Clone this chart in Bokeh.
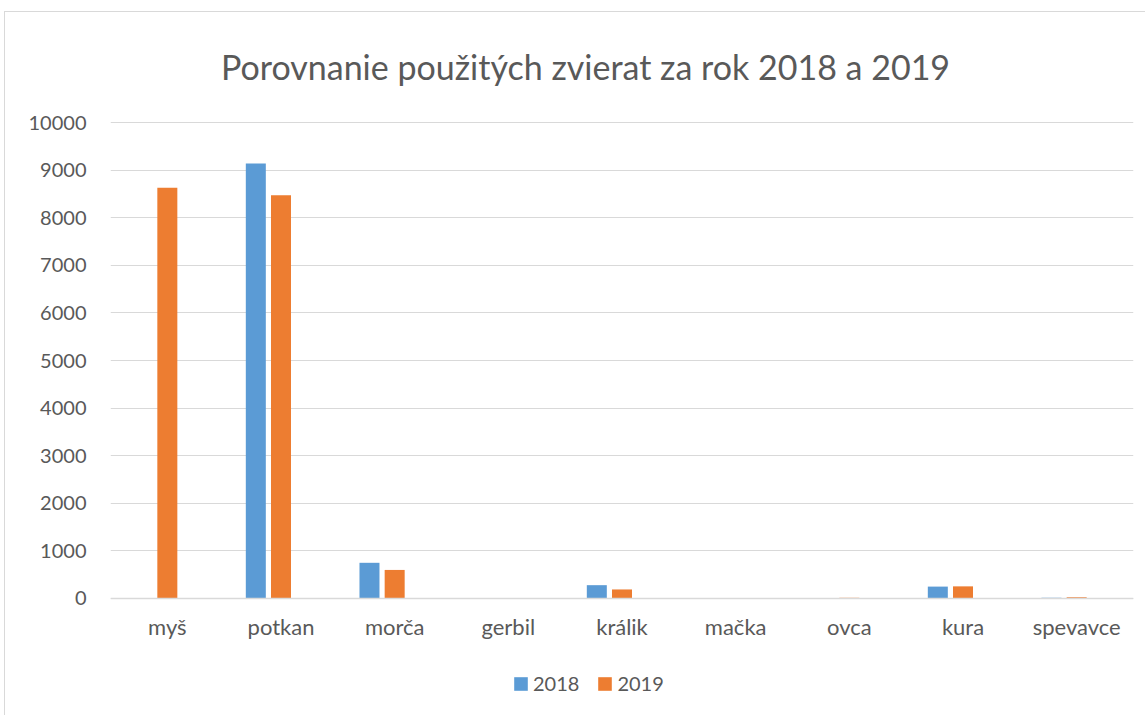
from bokeh.plotting import figure
from bokeh.layouts import column
from bokeh.models import (FactorRange, Range1d, Legend, LegendItem, Label,
                          ColumnDataSource, FixedTicker)
from bokeh.transform import dodge
from bokeh.embed import file_html
from bokeh.resources import INLINE

categories = ["myš", "potkan", "morča", "gerbil", "králik", "mačka", "ovca", "kura", "spevavce"]
values_2018 = [0, 9140, 750, 0, 280, 0, 0, 250, 15]
values_2019 = [8630, 8470, 600, 0, 190, 0, 15, 255, 25]
series_names = ["2018", "2019"]
y_ticks = [0, 1000, 2000, 3000, 4000, 5000, 6000, 7000, 8000, 9000, 10000]
title_text = "Porovnanie použitých zvierat za rok 2018 a 2019"

FONT = "Lato"
TXT = "#595959"
GRID = "#d9d9d9"

src = ColumnDataSource(dict(cat=categories, y2018=values_2018, y2019=values_2019))

# frame spans the full canvas height; value 0..10000 sits at the same pixels
# as in the reference (y range extended so title and legend fit in the frame)
p = figure(width=1140, height=703, output_backend="svg", toolbar_location=None,
           x_range=FactorRange(factors=categories, range_padding=0),
           y_range=Range1d(-2458, 12311),
           min_border_left=105, min_border_right=12, min_border_top=0,
           min_border_bottom=0)
p.title.visible = False
p.outline_line_color = None
p.background_fill_color = "white"
p.border_fill_color = "white"

r1 = p.vbar(x=dodge("cat", -0.2216, range=p.x_range), top="y2018", width=0.176,
            source=src, fill_color="#5B9BD5", line_color=None)
r2 = p.vbar(x=dodge("cat", 0.0, range=p.x_range), top="y2019", width=0.176,
            source=src, fill_color="#ED7D31", line_color=None)

# axes
p.yaxis.ticker = FixedTicker(ticks=y_ticks)
p.yaxis.axis_line_color = None
p.yaxis.major_tick_line_color = None
p.yaxis.minor_tick_line_color = None
p.yaxis.major_label_standoff = 18
p.yaxis.major_label_text_font = FONT
p.yaxis.major_label_text_font_size = "20px"
p.yaxis.major_label_text_color = TXT

p.xaxis.fixed_location = 0
p.xaxis.axis_line_color = GRID
p.xaxis.axis_line_width = 1.5
p.xaxis.major_tick_line_color = None
p.xaxis.minor_tick_line_color = None
p.xaxis.major_label_standoff = 9
p.xaxis.major_label_text_font = FONT
p.xaxis.major_label_text_font_size = "22px"
p.xaxis.major_label_text_color = TXT

p.xgrid.grid_line_color = None
p.ygrid.grid_line_color = GRID
p.ygrid.grid_line_width = 1.2

# title
p.add_layout(Label(x=4.179, y=11176, text=title_text, text_align="center",
                   text_baseline="alphabetic", text_font=FONT,
                   text_font_size="34px", text_color=TXT))

# legend
legend = Legend(items=[LegendItem(label=series_names[0], renderers=[r1]),
                       LegendItem(label=series_names[1], renderers=[r2])],
                location=(402, 20), orientation="horizontal",
                border_line_color=None, background_fill_alpha=0,
                padding=0, margin=0, spacing=17, label_standoff=4,
                glyph_width=17, glyph_height=17,
                label_text_font=FONT, label_text_font_size="20px",
                label_text_color=TXT)
p.add_layout(legend, "center")

layout = column(p, styles={"margin-left": "4px", "margin-top": "11px",
                           "border-left": "1px solid #d9d9d9",
                           "border-top": "1px solid #d9d9d9"})

open("out.html", "w").write(file_html(layout, INLINE))
